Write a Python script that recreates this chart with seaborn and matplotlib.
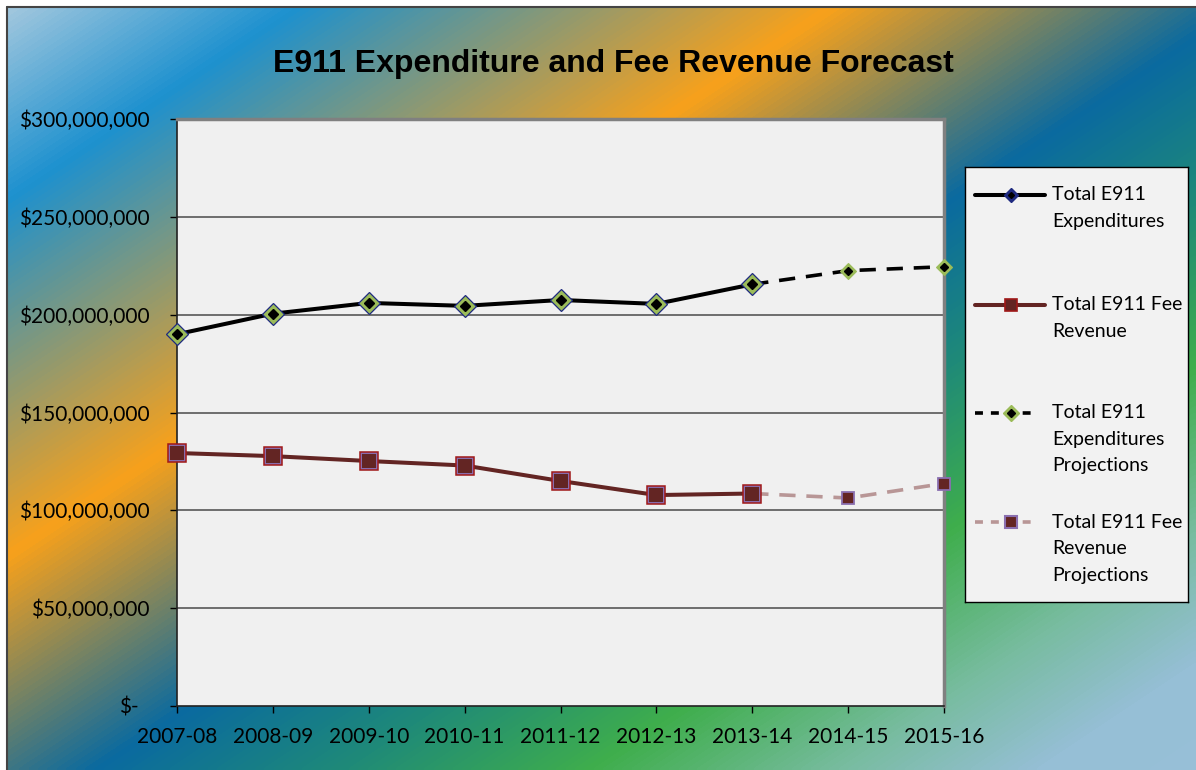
import numpy as np
import pandas as pd
import matplotlib
matplotlib.use("Agg")
import matplotlib.pyplot as plt
from matplotlib.colors import LinearSegmentedColormap
from matplotlib.lines import Line2D
import matplotlib.transforms as mtransforms
import seaborn as sns

# data (dollars)
periods = ["2007-08", "2008-09", "2009-10", "2010-11", "2011-12",
           "2012-13", "2013-14", "2014-15", "2015-16"]
expenditures = [190.0e6, 200.5e6, 206.0e6, 204.5e6, 207.5e6, 205.5e6, 215.5e6]
revenue = [129.3e6, 127.7e6, 125.2e6, 122.9e6, 115.0e6, 107.8e6, 108.6e6]
exp_projections = [215.5e6, 222.5e6, 224.5e6]
rev_projections = [108.6e6, 106.3e6, 113.7e6]
y_ticks = [0, 50e6, 100e6, 150e6, 200e6, 250e6, 300e6]
y_tick_labels = ["$-", "$50,000,000", "$100,000,000", "$150,000,000",
                 "$200,000,000", "$250,000,000", "$300,000,000"]
legend_labels = ["Total E911\nExpenditures", "Total E911 Fee\nRevenue",
                 "Total E911\nExpenditures\nProjections",
                 "Total E911 Fee\nRevenue\nProjections"]

n_act = len(expenditures)
actual = pd.DataFrame({"pos": np.arange(n_act), "exp": expenditures, "rev": revenue})
proj = pd.DataFrame({"pos": np.arange(n_act - 1, len(periods)),
                     "exp": exp_projections, "rev": rev_projections})

sns.set_theme(style="white")
plt.rcParams["font.family"] = ["Lato", "DejaVu Sans"]

W, H = 1196, 770
fig = plt.figure(figsize=(W / 100, H / 100), dpi=100)
fig.patch.set_facecolor("white")

# gradient background
bg = fig.add_axes([7 / W, 0, 1 - 7 / W, 1 - 7 / H])
bg.set_axis_off()
xx, yy = np.meshgrid(np.linspace(7, W, 300), np.linspace(7, H, 200))
tt = xx + 1.5 * yy
stops = [(0, "#a8cadf"), (300, "#1d91cf"), (840, "#f8a11b"), (1250, "#0a6aa0"),
         (1500, "#1f8a78"), (1750, "#3fae4c"), (2000, "#78bca0"),
         (2200, "#96bfd6"), (2420, "#98c0d8")]
tmax = stops[-1][0]
cmap = LinearSegmentedColormap.from_list("bg", [(p / tmax, c) for p, c in stops])
bg.imshow(tt / tmax, cmap=cmap, vmin=0, vmax=1, aspect="auto",
          extent=[0, 1, 0, 1], origin="upper", interpolation="bilinear")
bg.set_xlim(0, 1)
bg.set_ylim(0, 1)
fig.add_artist(Line2D([7 / W, 7 / W], [0, 1 - 7 / H], color="#444444", lw=1.5,
                      transform=fig.transFigure))
fig.add_artist(Line2D([7 / W, 1], [1 - 7 / H, 1 - 7 / H], color="#444444", lw=1.5,
                      transform=fig.transFigure))

# main axes
ax = fig.add_axes([177 / W, (H - 706) / H, (944 - 177) / W, 587 / H])
ax.set_facecolor("#f0f0f0")

exp_color = "#000000"
rev_color = "#632523"
rev_proj_color = "#b89696"

# projections first (under the actual markers)
sns.lineplot(data=proj, x="pos", y="exp", ax=ax, color=exp_color, lw=2.6,
             linestyle=(0, (4.5, 3)), marker="D", ms=8.5,
             markerfacecolor="#9bbb59", markeredgecolor="#9bbb59", mew=0.8,
             clip_on=False, zorder=3)
sns.lineplot(data=proj, x="pos", y="rev", ax=ax, color=rev_proj_color, lw=2.6,
             linestyle=(0, (4.5, 3)), marker="s", ms=9,
             markerfacecolor=rev_color, markeredgecolor="#8a6fb0", mew=1.3,
             clip_on=False, zorder=3)
ax.plot(proj["pos"], proj["exp"], linestyle="none", marker="D", ms=4.5,
        color="black", clip_on=False, zorder=4)

# actual series
sns.lineplot(data=actual, x="pos", y="exp", ax=ax, color=exp_color, lw=2.9,
             marker="D", ms=11.5, markerfacecolor="#9bbb59",
             markeredgecolor="#1f2a80", mew=0.9, clip_on=False, zorder=5)
ax.plot(actual["pos"], actual["exp"], linestyle="none", marker="D", ms=5.5,
        color="black", clip_on=False, zorder=6)
sns.lineplot(data=actual, x="pos", y="rev", ax=ax, color=rev_color, lw=2.9,
             marker="s", ms=11, markerfacecolor=rev_color,
             markeredgecolor="#8a6fb0", mew=1.4, clip_on=False, zorder=5)
ax.plot(actual["pos"], actual["rev"], linestyle="none", marker="s", ms=12.5,
        markerfacecolor="none", markeredgecolor="#a01818", mew=1.1,
        clip_on=False, zorder=6)

ax.set_xlim(0, len(periods) - 1)
ax.set_ylim(0, 300e6)
ax.set_xticks(np.arange(len(periods)))
ax.set_xticklabels(periods)
ax.set_yticks(y_ticks)
ax.set_yticklabels(y_tick_labels)
ax.set_xlabel("")
ax.set_ylabel("")
ax.tick_params(axis="both", which="major", direction="out", length=5, width=1,
               color="black", labelsize=15, labelcolor="black", left=True,
               bottom=True)
ax.tick_params(axis="y", pad=15)
ax.tick_params(axis="x", pad=10)
for g in y_ticks[1:-1]:
    ax.axhline(g, color="#4a4a4a", lw=1.1, zorder=1)
for side in ["left", "bottom"]:
    ax.spines[side].set_color("#222222")
    ax.spines[side].set_linewidth(1.2)
for side in ["top", "right"]:
    ax.spines[side].set_color("#808080")
    ax.spines[side].set_linewidth(2.5)

# "$-" sits further left (accounting format)
lab0 = ax.get_yticklabels()[0]
lab0.set_transform(lab0.get_transform() +
                   mtransforms.ScaledTranslation(-11 / 100, 0, fig.dpi_scale_trans))

fig.text(613 / W, 1 - 64 / H, "E911 Expenditure and Fee Revenue Forecast",
         ha="center", va="center", fontsize=23, fontweight="bold",
         family="Liberation Sans", color="black")

# legend box, drawn by hand so handles sit on the first text line
lg = fig.add_axes([965 / W, (H - 602) / H, 223 / W, 435 / H])
lg.set_xlim(0, 223)
lg.set_ylim(435, 0)
lg.set_facecolor("#f2f2f2")
lg.set_xticks([])
lg.set_yticks([])
for s in lg.spines.values():
    s.set_color("black")
    s.set_linewidth(1.0)

entry_y = [28, 138, 246, 355]
line_gap = 26.5
lg.plot([10, 80], [entry_y[0]] * 2, color=exp_color, lw=2.9)
lg.plot([46], [entry_y[0]], marker="D", ms=7, markerfacecolor="#1f2a80",
        markeredgecolor="#1f2a80")
lg.plot([46], [entry_y[0]], marker="D", ms=3, color="black")
lg.plot([10, 80], [entry_y[1]] * 2, color=rev_color, lw=2.9)
lg.plot([46], [entry_y[1]], marker="s", ms=9, markerfacecolor=rev_color,
        markeredgecolor="#a01818", mew=1.2)
lg.plot([10, 67], [entry_y[2]] * 2, color=exp_color, lw=2.6, linestyle=(0, (2.2, 2.2)))
lg.plot([46], [entry_y[2]], marker="D", ms=8, markerfacecolor="#9bbb59",
        markeredgecolor="#9bbb59")
lg.plot([46], [entry_y[2]], marker="D", ms=4, color="black")
lg.plot([10, 67], [entry_y[3]] * 2, color=rev_proj_color, lw=2.6,
        linestyle=(0, (2.2, 2.2)))
lg.plot([46], [entry_y[3]], marker="s", ms=9, markerfacecolor=rev_color,
        markeredgecolor="#8a6fb0", mew=1.5)
for y0, label in zip(entry_y, legend_labels):
    for i, line in enumerate(label.split("\n")):
        lg.text(87, y0 + i * line_gap, line, ha="left", va="center",
                fontsize=14, color="black")

fig.savefig("out.png", dpi=100)
plt.close(fig)
